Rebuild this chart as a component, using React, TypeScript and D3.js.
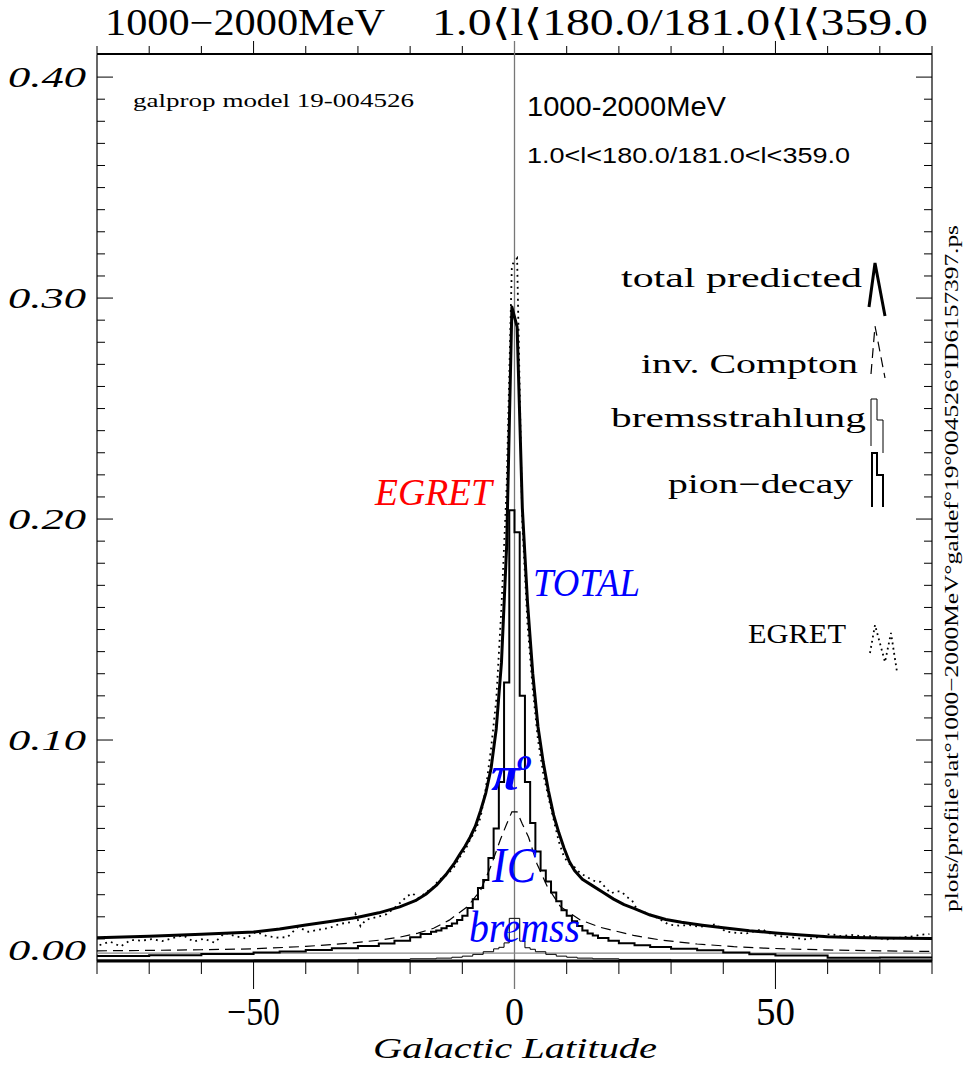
import React, { useEffect } from "react";
import * as d3 from "d3";

const W = 973;
const H = 1065;
const X_DOMAIN: [number, number] = [-80, 80];
const Y_DOMAIN: [number, number] = [0, 0.41];

const yTickValues = [0, 0.1, 0.2, 0.3, 0.4];
const yTickLabels = ["0.00", "0.10", "0.20", "0.30", "0.40"];
const xTickValues = [-50, 0, 50];
const xTickLabels = ["−50", "0", "50"];

// total predicted (thick solid)
const totalLat = [-80, -70, -60, -50, -45, -40, -35, -30, -26, -22, -19, -17, -15, -13, -11.5, -10.5, -9.5, -8.5, -7.5, -6.5, -5.5, -4.5, -3.5, -2.5, -1.5, -0.5, 0.5, 1.5, 2.5, 3.5, 4.5, 5.5, 6.5, 7.5, 8.5, 9.5, 10.5, 11.5, 13, 15, 17, 19, 21, 23, 26, 29, 32, 36, 40, 45, 50, 55, 60, 65, 70, 75, 80];
const totalVal = [0.0105, 0.0112, 0.0121, 0.0131, 0.0145, 0.0163, 0.018, 0.0198, 0.0218, 0.0245, 0.0273, 0.0302, 0.0342, 0.0395, 0.0443, 0.0482, 0.0518, 0.056, 0.061, 0.068, 0.076, 0.087, 0.105, 0.135, 0.188, 0.296, 0.287, 0.205, 0.162, 0.13, 0.106, 0.09, 0.077, 0.066, 0.058, 0.051, 0.045, 0.041, 0.037, 0.034, 0.031, 0.028, 0.0255, 0.0237, 0.0208, 0.0188, 0.0175, 0.0162, 0.015, 0.0137, 0.0127, 0.0118, 0.011, 0.0106, 0.0104, 0.0103, 0.0102];

// inverse Compton (dashed)
const icLat = [-80, -70, -60, -50, -40, -32, -26, -22, -18.5, -15.5, -12.5, -9, -6.5, -4.5, -2.7, -1.5, -0.5, 0.5, 1.5, 2.7, 4.3, 6.3, 8.8, 12.6, 16.5, 22.8, 28, 35, 42, 48, 55, 62, 70, 80];
const icVal = [0.0046, 0.0048, 0.0051, 0.0055, 0.0066, 0.008, 0.0094, 0.0108, 0.0126, 0.0148, 0.0185, 0.0246, 0.032, 0.043, 0.055, 0.062, 0.0675, 0.0675, 0.062, 0.056, 0.044, 0.0336, 0.0246, 0.0186, 0.0152, 0.0116, 0.0095, 0.0077, 0.0065, 0.0058, 0.0053, 0.0049, 0.0046, 0.0043];

// pion-decay histogram (bin edges and values)
const pionEdges = [-80, -70, -60, -50, -45, -40, -35, -30, -26, -23, -20, -18, -16, -15, -14, -13, -12, -11, -10, -9, -8, -7, -6, -5, -4, -3, -2, -1, 0, 1, 2, 3, 4, 5, 6, 7, 8, 9, 10, 11, 12, 13, 14, 15, 16, 18, 20, 23, 26, 30, 35, 40, 45, 50, 60, 70, 80];
const pionVal = [0.0023, 0.0026, 0.0032, 0.0038, 0.0043, 0.005, 0.0058, 0.0068, 0.0079, 0.0092, 0.0108, 0.0122, 0.0132, 0.0138, 0.0148, 0.0158, 0.017, 0.0185, 0.0205, 0.024, 0.028, 0.033, 0.0367, 0.0466, 0.06, 0.081, 0.126, 0.204, 0.194, 0.12, 0.081, 0.0625, 0.0495, 0.041, 0.036, 0.031, 0.027, 0.023, 0.0205, 0.018, 0.0158, 0.0138, 0.0125, 0.0115, 0.0104, 0.0092, 0.008, 0.0071, 0.0063, 0.0055, 0.0049, 0.0039, 0.0031, 0.0025, 0.0015, 0.0016];

// bremsstrahlung histogram
const bremEdges = [-80, -50, -30, -20, -15, -12, -10, -8, -6, -4, -3, -2, -1, 0, 1, 2, 3, 4, 6, 8, 10, 12, 15, 20, 30, 50, 80];
const bremVal = [0.0004, 0.0005, 0.0007, 0.001, 0.0013, 0.0017, 0.0022, 0.003, 0.0042, 0.0055, 0.0062, 0.0082, 0.0193, 0.0193, 0.009, 0.006, 0.0053, 0.0042, 0.003, 0.0022, 0.0017, 0.0013, 0.001, 0.0007, 0.0005, 0.0004];

// isotropic background level (grey line)
const isoLevel = 0.0036;

// EGRET data (dotted)
const egretLat = [-79.5, -77.5, -75.5, -73.5, -71.5, -69.5, -67.5, -65.5, -63.5, -61.5, -59.5, -57.5, -55.5, -53.5, -51.5, -49.5, -47.5, -45.5, -43.5, -41.5, -39.5, -37.5, -35.5, -33.5, -31.5, -30.5, -29.5, -28.5, -26.5, -24.5, -22.5, -20.5, -19.5, -18.5, -17.5, -16.5, -15.5, -14.5, -13.5, -12.5, -11.5, -10.5, -9.5, -8.5, -7.5, -6.5, -5.5, -4.5, -3.5, -2.5, -1.5, -0.5, 0.5, 1.5, 2.5, 3.5, 4.5, 5.5, 6.5, 7.5, 8.5, 9.5, 10.5, 11.5, 12.5, 13.5, 14.5, 15.5, 16.5, 17.5, 18.5, 19.5, 20.5, 21.5, 22.5, 23.5, 25.5, 26.5, 28.5, 29.5, 31.5, 33.5, 35.5, 37.5, 38.5, 40.5, 42.5, 44.5, 46.5, 47.5, 49.5, 51.5, 53.5, 55.5, 57.5, 58.5, 60.5, 62.5, 64.5, 66.5, 68.5, 70.5, 71.5, 73.5, 74.5, 76.5, 77.5, 79.5];
const egretVal = [0.0072, 0.0088, 0.0066, 0.0095, 0.0092, 0.0099, 0.009, 0.0104, 0.0116, 0.0088, 0.0101, 0.0083, 0.0128, 0.0112, 0.0102, 0.0132, 0.0113, 0.0106, 0.0108, 0.0154, 0.0132, 0.0142, 0.0149, 0.0168, 0.0175, 0.0214, 0.0157, 0.0186, 0.0198, 0.0212, 0.025, 0.0295, 0.0306, 0.0284, 0.03, 0.0318, 0.0335, 0.0367, 0.038, 0.04, 0.0428, 0.047, 0.05, 0.055, 0.059, 0.065, 0.078, 0.096, 0.118, 0.16, 0.215, 0.315, 0.318, 0.198, 0.152, 0.123, 0.1, 0.085, 0.074, 0.064, 0.054, 0.047, 0.044, 0.0425, 0.04, 0.0385, 0.0372, 0.036, 0.0358, 0.033, 0.0306, 0.0316, 0.0314, 0.029, 0.0275, 0.0232, 0.0215, 0.0206, 0.018, 0.0165, 0.016, 0.0162, 0.0155, 0.016, 0.0167, 0.0133, 0.0127, 0.0125, 0.0138, 0.0143, 0.0118, 0.011, 0.0106, 0.0098, 0.0104, 0.011, 0.0122, 0.0113, 0.0118, 0.0112, 0.0113, 0.01, 0.0098, 0.0104, 0.0107, 0.0112, 0.0118, 0.0122];

const LEFT = 97;
const RIGHT = 932;
const TOP = 55;
const BOTTOM = 961;

const serif = "'Liberation Serif', 'DejaVu Serif', serif";
const sans = "'Liberation Sans', Arial, sans-serif";

export default function App() {
  useEffect(() => {
    document.body.style.margin = "0";
    document.body.style.overflow = "hidden";
  }, []);

  const x = d3.scaleLinear().domain(X_DOMAIN).range([LEFT, RIGHT]);
  const y = d3.scaleLinear().domain(Y_DOMAIN).range([BOTTOM, TOP]);

  const line = d3
    .line<[number, number]>()
    .x((d) => x(d[0]))
    .y((d) => y(d[1]));

  const totalPath = line(totalLat.map((l, i) => [l, totalVal[i]]) as [number, number][]) || "";
  const icPath = line(icLat.map((l, i) => [l, icVal[i]]) as [number, number][]) || "";
  const egretPath = line(egretLat.map((l, i) => [l, egretVal[i]]) as [number, number][]) || "";

  const histPath = (edges: number[], vals: number[]) => {
    const pts: [number, number][] = [];
    vals.forEach((v, i) => {
      pts.push([edges[i], v]);
      pts.push([edges[i + 1], v]);
    });
    return line(pts) || "";
  };
  const pionPath = histPath(pionEdges, pionVal);
  const bremPath = histPath(bremEdges, bremVal);

  const yMinor = d3.range(0, 41).map((i) => i / 100);
  const xMinor = d3.range(-80, 81, 10);

  return (
    <svg
      width={W}
      height={H}
      viewBox={`0 0 ${W} ${H}`}
      style={{ position: "absolute", left: 0, top: 0, background: "#fff", display: "block" }}
    >
      <rect x={0} y={0} width={W} height={H} fill="#fff" />

      {/* Title */}
      <text x={105} y={35} fontFamily={serif} fontSize={37} textLength={280} lengthAdjust="spacingAndGlyphs">
        1000−2000MeV
      </text>
      <text x={432} y={35} fontFamily={serif} fontSize={37} textLength={496} lengthAdjust="spacingAndGlyphs">
        1.0⟨l⟨180.0/181.0⟨l⟨359.0
      </text>

      {/* frame */}
      <line x1={LEFT} x2={LEFT} y1={TOP} y2={BOTTOM} stroke="#000" strokeWidth={1.2} />
      <line x1={RIGHT} x2={RIGHT} y1={TOP} y2={BOTTOM} stroke="#000" strokeWidth={1.2} />
      <line x1={LEFT} x2={RIGHT} y1={TOP - 1} y2={TOP - 1} stroke="#000" strokeWidth={2} />

      {/* y ticks */}
      {yMinor.map((v, i) => {
        const major = i % 10 === 0;
        const len = major ? 16 : 8;
        return (
          <g key={"yt" + i}>
            <line x1={LEFT} x2={LEFT + len} y1={y(v)} y2={y(v)} stroke="#000" strokeWidth={1} />
            <line x1={RIGHT} x2={RIGHT - len} y1={y(v)} y2={y(v)} stroke="#000" strokeWidth={1} />
          </g>
        );
      })}
      {yTickValues.map((v, i) => (
        <text
          key={"yl" + i}
          x={47}
          y={y(v) + 10 + (v === 0 ? -11 : 0)}
          textAnchor="middle"
          fontFamily={serif}
          fontStyle="italic"
          fontSize={30}
          textLength={78}
          lengthAdjust="spacingAndGlyphs"
        >
          {yTickLabels[i]}
        </text>
      ))}

      {/* x ticks bottom (outward) and top (outward) */}
      {xMinor.map((v, i) => {
        const major = v % 50 === 0;
        return (
          <g key={"xt" + i}>
            <line x1={x(v)} x2={x(v)} y1={BOTTOM} y2={BOTTOM + (major ? 28 : 13)} stroke="#000" strokeWidth={1} />
            <line x1={x(v)} x2={x(v)} y1={TOP} y2={TOP - (major ? 14 : 9)} stroke="#000" strokeWidth={1} />
          </g>
        );
      })}
      {xTickValues.map((v, i) => (
        <text
          key={"xl" + i}
          x={x(v)}
          y={1025}
          textAnchor="middle"
          fontFamily={serif}
          fontSize={40}
          textLength={v < 0 ? 53 : v === 0 ? 19 : 39}
          lengthAdjust="spacingAndGlyphs"
        >
          {xTickLabels[i]}
        </text>
      ))}
      <text
        x={515}
        y={1058}
        textAnchor="middle"
        fontFamily={serif}
        fontStyle="italic"
        fontSize={30}
        textLength={284}
        lengthAdjust="spacingAndGlyphs"
      >
        Galactic Latitude
      </text>

      {/* vertical line at b=0 */}
      <line x1={x(0)} x2={x(0)} y1={TOP - 14} y2={BOTTOM + 28} stroke="#777" strokeWidth={1.3} />

      {/* isotropic level */}
      <line x1={x(X_DOMAIN[0])} x2={x(X_DOMAIN[1])} y1={y(isoLevel)} y2={y(isoLevel)} stroke="#888" strokeWidth={1.3} />

      {/* curves */}
      <path d={bremPath} fill="none" stroke="#000" strokeWidth={1} />
      <path d={pionPath} fill="none" stroke="#000" strokeWidth={2} />
      <path d={icPath} fill="none" stroke="#000" strokeWidth={1.2} strokeDasharray="10 6" />
      <path d={egretPath} fill="none" stroke="#000" strokeWidth={1.8} strokeDasharray="1.8 4.2" />
      <path d={totalPath} fill="none" stroke="#000" strokeWidth={3} strokeLinejoin="round" />

      {/* bottom axis (thick) */}
      <line x1={LEFT} x2={RIGHT} y1={BOTTOM} y2={BOTTOM} stroke="#000" strokeWidth={3} />

      {/* annotations */}
      <text x={133} y={107} fontFamily={serif} fontSize={18} textLength={281} lengthAdjust="spacingAndGlyphs">
        galprop model 19-004526
      </text>
      <text x={527} y={116} fontFamily={sans} fontSize={27} textLength={199} lengthAdjust="spacingAndGlyphs">
        1000-2000MeV
      </text>
      <text x={527} y={163} fontFamily={sans} fontSize={22} textLength={323} lengthAdjust="spacingAndGlyphs">
        1.0&lt;l&lt;180.0/181.0&lt;l&lt;359.0
      </text>

      {/* legend */}
      <text x={862} y={287} textAnchor="end" fontFamily={serif} fontSize={27} textLength={241} lengthAdjust="spacingAndGlyphs">
        total predicted
      </text>
      <path d="M869,307 L875,263 L885,316" fill="none" stroke="#000" strokeWidth={3} />
      <text x={858} y={373} textAnchor="end" fontFamily={serif} fontSize={27} textLength={217} lengthAdjust="spacingAndGlyphs">
        inv. Compton
      </text>
      <path d="M871,374 L875,326 L885,378" fill="none" stroke="#000" strokeWidth={1.2} strokeDasharray="10 6" />
      <text x={866} y={427} textAnchor="end" fontFamily={serif} fontSize={27} textLength={255} lengthAdjust="spacingAndGlyphs">
        bremsstrahlung
      </text>
      <path d="M871,446 L871,399 L877,399 L877,420 L883,420 L883,453" fill="none" stroke="#000" strokeWidth={1} />
      <text x={853} y={493} textAnchor="end" fontFamily={serif} fontSize={27} textLength={185} lengthAdjust="spacingAndGlyphs">
        pion−decay
      </text>
      <path d="M872,507 L872,453 L877,453 L877,475 L883,475 L883,507" fill="none" stroke="#000" strokeWidth={2} />
      <text x={846} y={643} textAnchor="end" fontFamily={serif} fontSize={27} textLength={98} lengthAdjust="spacingAndGlyphs">
        EGRET
      </text>
      <path d="M870,653 L875,625 L885,662 L891,633 L897,672" fill="none" stroke="#000" strokeWidth={1.8} strokeDasharray="1.8 3.5" />

      {/* coloured labels */}
      <text x={375} y={505} fontFamily={serif} fontStyle="italic" fontSize={38} fill="#ff0000" textLength={117} lengthAdjust="spacingAndGlyphs">
        EGRET
      </text>
      <text x={533} y={596} fontFamily={serif} fontStyle="italic" fontSize={39} fill="#0000ff" textLength={107} lengthAdjust="spacingAndGlyphs">
        TOTAL
      </text>
      <text x={491} y={790} fontFamily={serif} fontStyle="italic" fontWeight="bold" fontSize={48} fill="#0000ff" textLength={29} lengthAdjust="spacingAndGlyphs">
        π
      </text>
      <text x={517} y={770} fontFamily={serif} fontStyle="italic" fontWeight="bold" fontSize={30} fill="#0000ff">
        o
      </text>
      <text x={492} y={882} fontFamily={serif} fontStyle="italic" fontSize={50} fill="#0000ff" textLength={44} lengthAdjust="spacingAndGlyphs">
        IC
      </text>
      <text x={469} y={942} fontFamily={serif} fontStyle="italic" fontSize={44} fill="#0000ff" textLength={111} lengthAdjust="spacingAndGlyphs">
        bremss
      </text>

      {/* right vertical filename */}
      <text
        transform="translate(958,912) rotate(-90)"
        fontFamily={serif}
        fontSize={19}
        textLength={687}
        lengthAdjust="spacingAndGlyphs"
      >
        plots/profile°lat°1000−2000MeV°galdef°19°004526°ID6157397.ps
      </text>
    </svg>
  );
}
